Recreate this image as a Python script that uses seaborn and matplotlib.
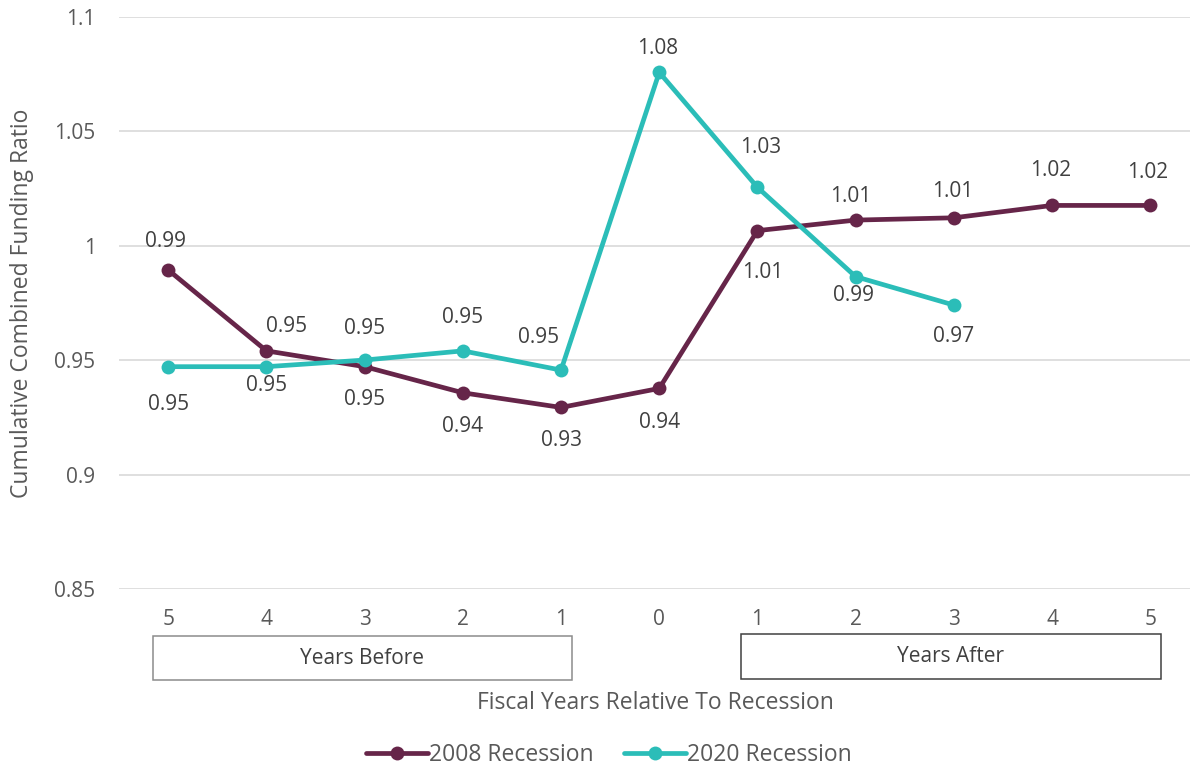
import matplotlib
matplotlib.use("Agg")
import matplotlib.pyplot as plt
import matplotlib.transforms as mtransforms
from matplotlib.patches import Rectangle
import numpy as np
import pandas as pd
import seaborn as sns

# ---- data -------------------------------------------------------------
tick_labels = ["5", "4", "3", "2", "1", "0", "1", "2", "3", "4", "5"]
ratio_2008 = [0.9894, 0.9541, 0.9472, 0.9358, 0.9294, 0.9377,
              1.0066, 1.0112, 1.0122, 1.0176, 1.0176]
ratio_2020 = [0.9472, 0.9472, 0.9501, 0.9541, 0.9457, 1.0757,
              1.0255, 0.9865, 0.9741]
series_names = ["2008 Recession", "2020 Recession"]

# label placement (pixel offsets from each point)
offsets_2008 = [(-3, 29), (20, 24), (0, -33), (0, -34), (0, -33), (0, -34),
                (5, -42), (-5, 24), (-1, 26), (-1, 35), (-3, 33)]
offsets_2020 = [(0, -38), (0, -19), (0, 32), (0, 33), (-22, 33), (-2, 24),
                (3, 40), (-2, -19), (0, -31)]

colors = {"2008 Recession": "#662549", "2020 Recession": "#2BBDB8"}
text_color = "#595959"

df = pd.concat([
    pd.DataFrame({"pos": np.arange(len(ratio_2008)), "ratio": ratio_2008,
                  "series": series_names[0]}),
    pd.DataFrame({"pos": np.arange(len(ratio_2020)), "ratio": ratio_2020,
                  "series": series_names[1]}),
], ignore_index=True)

# ---- figure -----------------------------------------------------------
sns.set_style("white")
plt.rcParams["font.family"] = ["Open Sans", "DejaVu Sans"]

W, H = 1190, 767
fig = plt.figure(figsize=(W / 100, H / 100), dpi=100)
left, right, top, bottom = 119.2, 1199.3, 16.7, 589.3
ax = fig.add_axes([left / W, 1 - bottom / H, (right - left) / W, (bottom - top) / H])

sns.lineplot(data=df, x="pos", y="ratio", hue="series", palette=colors,
             marker="o", markersize=10, markeredgewidth=0, linewidth=3.4,
             ax=ax, legend=True, zorder=3)

ax.set_xlim(-0.5, 10.5)
ax.set_ylim(0.85, 1.1)
ax.set_yticks([0.85, 0.9, 0.95, 1.0, 1.05, 1.1])
ax.set_yticklabels(["0.85", "0.9", "0.95", "1", "1.05", "1.1"])
ax.set_xticks(np.arange(len(tick_labels)))
ax.set_xticklabels(tick_labels)
ax.tick_params(axis="both", length=0, labelsize=15, colors=text_color)
ax.tick_params(axis="x", pad=14)
ax.tick_params(axis="y", pad=17)
ax.yaxis.grid(True, color="#D9D9D9", linewidth=1.2)
ax.xaxis.grid(False)
for s in ax.spines.values():
    s.set_visible(False)
ax.set_xlabel("")
ax.set_ylabel("")

# data labels
for vals, offs in ((ratio_2008, offsets_2008), (ratio_2020, offsets_2020)):
    for i, (v, (dx, dy)) in enumerate(zip(vals, offs)):
        ax.annotate(f"{v:.2f}", (i, v), xytext=(dx, dy), textcoords="offset pixels",
                    ha="center", va="center", fontsize=15, color="#404040")

# bracket boxes under the category axis
trans = mtransforms.blended_transform_factory(ax.transData, fig.transFigure)
for x0, x1, y_top, y_bot, label, ec in (
        (-0.16, 4.11, 636, 680, "Years Before", "#8C8C8C"),
        (5.83, 10.11, 634, 679, "Years After", "#404040")):
    rect = Rectangle((x0, 1 - y_bot / H), x1 - x0, (y_bot - y_top) / H,
                     transform=trans, fill=False, edgecolor=ec, linewidth=1.1,
                     clip_on=False)
    fig.add_artist(rect)
    fig.text((x0 + x1) / 2, 1 - (y_top + y_bot) / 2 / H, label, transform=trans,
             ha="center", va="center", fontsize=15, color="#404040")

fig.text(655 / W, 1 - 703 / H, "Fiscal Years Relative To Recession",
         ha="center", va="center", fontsize=16.5, color=text_color)
fig.text(22 / W, 1 - 303 / H, "Cumulative Combined Funding Ratio",
         ha="center", va="center", rotation=90, fontsize=16.5, color=text_color)

handles, labels = ax.get_legend_handles_labels()
ax.get_legend().remove()
fig.legend(handles, labels, loc="center", bbox_to_anchor=(609 / W, 1 - 755 / H),
           ncol=2, frameon=False, fontsize=16.5, handlelength=2.7,
           handletextpad=0.05, columnspacing=1.3, labelcolor=text_color)

fig.savefig("out.png", dpi=100)
